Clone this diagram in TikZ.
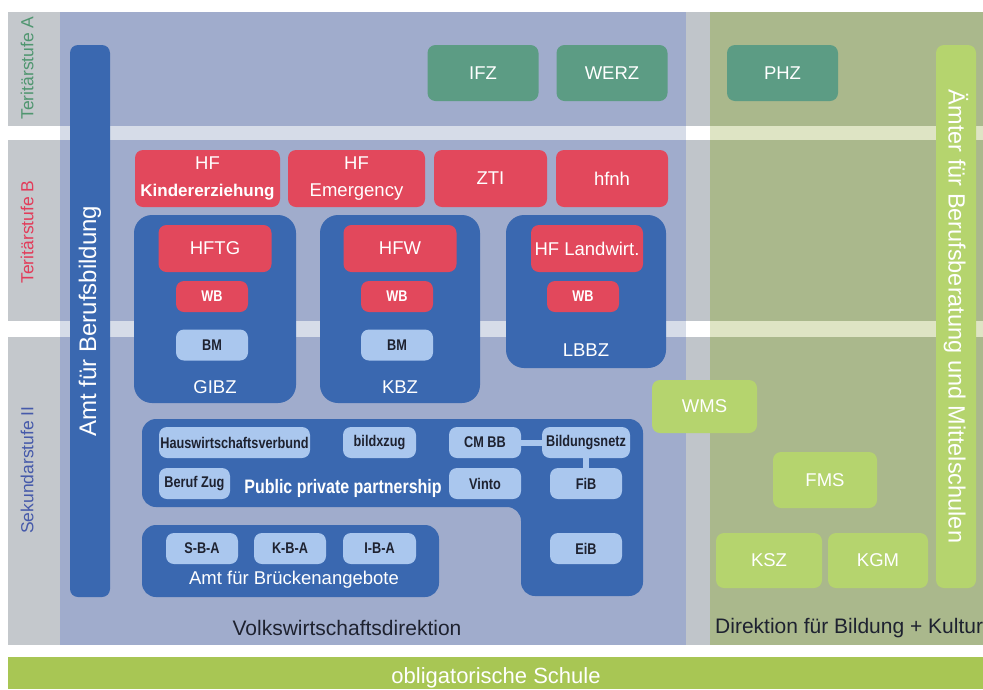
\documentclass[tikz,border=0pt]{standalone}
\usepackage{fontspec}
\setmainfont{Liberation Sans}
\newfontfamily\narrowfont[FakeStretch=0.82]{Liberation Sans}

\definecolor{stripgray}{RGB}{196,200,204}
\definecolor{vwdblue}{RGB}{160,172,204}
\definecolor{bandblue}{RGB}{214,220,232}
\definecolor{sepgray}{RGB}{192,197,202}
\definecolor{dbkgreen}{RGB}{170,184,140}
\definecolor{bandgreen}{RGB}{222,228,196}
\definecolor{boxblue}{RGB}{58,104,176}
\definecolor{boxlight}{RGB}{170,199,238}
\definecolor{boxred}{RGB}{226,72,92}
\definecolor{boxteal}{RGB}{92,156,132}
\definecolor{boxgreen}{RGB}{181,212,110}
\definecolor{barlime}{RGB}{168,198,84}
\definecolor{textdark}{RGB}{30,34,48}
\definecolor{stufeA}{RGB}{80,150,112}
\definecolor{stufeB}{RGB}{226,60,90}
\definecolor{stufeS}{RGB}{70,90,170}

\tikzset{
  box/.style={rounded corners=8pt, inner sep=0pt, align=center},
  tealbox/.style={box, fill=boxteal, text=white, font=\fontsize{18.5}{21}\selectfont,
    minimum width=111pt, minimum height=56pt},
  redbox/.style={box, fill=boxred, text=white, font=\fontsize{18.5}{27}\selectfont,
    minimum height=57pt},
  hfbox/.style={box, fill=boxred, text=white, font=\fontsize{18.5}{21}\selectfont,
    minimum width=113pt, minimum height=47pt},
  wbbox/.style={box, fill=boxred, text=white, font=\narrowfont\bfseries\fontsize{15.5}{17}\selectfont,
    minimum width=72pt, minimum height=31pt},
  lightbox/.style={box, fill=boxlight, text=textdark, font=\narrowfont\bfseries\fontsize{15.5}{17}\selectfont,
    minimum width=72pt, minimum height=31pt},
  greenbox/.style={box, fill=boxgreen, text=white, font=\fontsize{18.5}{21}\selectfont,
    minimum height=55pt},
  whitelabel/.style={text=white, inner sep=0pt, font=\fontsize{18.5}{21}\selectfont},
  stufe/.style={rotate=90, inner sep=0pt, font=\fontsize{17.5}{20}\selectfont},
  link/.style={draw=boxlight, line width=6pt},
}

\begin{document}
\begin{tikzpicture}[x=1pt, y=-1pt]
  \useasboundingbox (0,0) rectangle (983,689);
  \fill[white] (0,0) rectangle (983,689);

  % Hintergrund
  \fill[stripgray] (8,12)   rectangle (60,645);
  \fill[vwdblue]   (60,12)  rectangle (686,645);
  \fill[sepgray]   (686,12) rectangle (710,645);
  \fill[dbkgreen]  (710,12) rectangle (983,645);

  % Trennbaender
  \foreach \ya/\yb in {126/140, 321/337} {
    \fill[white]     (8,\ya)   rectangle (60,\yb);
    \fill[bandblue]  (60,\ya)  rectangle (686,\yb);
    \fill[white]     (686,\ya) rectangle (710,\yb);
    \fill[bandgreen] (710,\ya) rectangle (983,\yb);
  }
  \fill[barlime] (8,657) rectangle (983,689);

  % Stufen
  \node[stufe, text=stufeA] (stA) at (27,68)  {Teritärstufe A};
  \node[stufe, text=stufeB] (stB) at (27,232) {Teritärstufe B};
  \node[stufe, text=stufeS] (stS) at (27,470) {Sekundarstufe II};

  % Amt fuer Berufsbildung
  \node[box, fill=boxblue, text=white, rotate=90, font=\fontsize{24}{28}\selectfont,
        minimum width=552pt, minimum height=40pt] (afb) at (90,321) {Amt für Berufsbildung};

  % Tertiaerstufe A
  \node[tealbox] (ifz)  at (483,73)   {IFZ};
  \node[tealbox] (werz) at (612,73)   {WERZ};
  \node[tealbox] (phz)  at (782.5,73) {PHZ};

  % Tertiaerstufe B
  \node[redbox, minimum width=145pt] (hfk) at (207.5,178.5)
        {HF\\{\fontsize{17}{20}\selectfont\bfseries Kindererziehung}};
  \node[redbox, minimum width=137pt] (hfe) at (356.5,178.5) {HF\\Emergency};
  \node[redbox, minimum width=113pt] (zti) at (490.5,178.5) {ZTI};
  \node[redbox, minimum width=112pt] (hfnh) at (612,178.5) {hfnh};

  % Berufsbildungszentren
  \fill[boxblue, rounded corners=18pt] (134,215) rectangle (296,403);
  \fill[boxblue, rounded corners=18pt] (320,215) rectangle (480,403);
  \fill[boxblue, rounded corners=18pt] (506,215) rectangle (666,368);

  \node[hfbox] (hftg) at (215,248.5) {HFTG};
  \node[wbbox] (wb1)  at (212,296.5) {WB};
  \node[lightbox] (bm1) at (212,345) {BM};
  \node[whitelabel] (gibz) at (215,387) {GIBZ};

  \node[hfbox] (hfw) at (400,248.5) {HFW};
  \node[wbbox] (wb2) at (397,296.5) {WB};
  \node[lightbox] (bm2) at (397,345) {BM};
  \node[whitelabel] (kbz) at (400,387) {KBZ};

  \node[hfbox, minimum width=112pt] (hfl) at (587,248.5) {HF Landwirt.};
  \node[wbbox] (wb3) at (583,296.5) {WB};
  \node[whitelabel] (lbbz) at (586,350) {LBBZ};

  % Public private partnership
  \fill[boxblue, rounded corners=14pt] (142,419) -- (643,419) -- (643,596)
        -- (521,596) -- (521,507) -- (142,507) -- cycle;
  \node[lightbox, minimum width=151pt] (hwv)  at (234.5,442.5) {Hauswirtschaftsverbund};
  \node[lightbox, minimum width=73pt]  (bxz)  at (379.5,442.5) {bildxzug};
  \node[lightbox] (cmbb)  at (485,442.5) {CM BB};
  \node[lightbox, minimum width=88pt]  (bnetz) at (586,442.5) {Bildungsnetz};
  \node[lightbox, minimum width=71pt]  (bzug) at (194.5,483.5) {Beruf Zug};
  \node[lightbox] (vinto) at (485,483.5) {Vinto};
  \node[lightbox] (fib)   at (586,483.5) {FiB};
  \node[lightbox] (eib)   at (586,548.5) {EiB};
  \node[text=white, inner sep=0pt, font=\narrowfont\bfseries\fontsize{19.5}{22}\selectfont]
        (ppp) at (343,488) {Public private partnership};

  \draw[link] (cmbb) -- (bnetz);
  \draw[link] (bnetz) -- (fib);

  % Brueckenangebote
  \fill[boxblue, rounded corners=14pt] (142,525) rectangle (439,597);
  \node[lightbox] (sba) at (202,548.5) {S-B-A};
  \node[lightbox] (kba) at (290,548.5) {K-B-A};
  \node[lightbox, minimum width=73pt] (iba) at (379.5,548.5) {I-B-A};
  \node[whitelabel] (abr) at (294,580) {Amt für Brückenangebote};

  % Mittelschulen
  \node[greenbox, minimum width=105pt, minimum height=53pt] (wms) at (704.5,406.5) {WMS};
  \node[greenbox, minimum width=104pt, minimum height=56pt] (fms) at (825,480) {FMS};
  \node[greenbox, minimum width=106pt] (ksz) at (769,560.5) {KSZ};
  \node[greenbox, minimum width=100pt] (kgm) at (878,560.5) {KGM};
  \node[box, fill=boxgreen, text=white, rotate=-90, font=\fontsize{23.5}{27}\selectfont,
        minimum width=543pt, minimum height=40pt] (abm) at (956,316.5)
        {Ämter für Berufsberatung und Mittelschulen};

  % Direktionen
  \node[text=textdark, inner sep=0pt, font=\fontsize{21}{24}\selectfont]
        (vwd) at (347,628) {Volkswirtschaftsdirektion};
  \node[text=textdark, inner sep=0pt, anchor=west, font=\fontsize{21}{24}\selectfont]
        (dbk) at (715,628) {Direktion für Bildung + Kultur};
  \node[text=white, inner sep=0pt, anchor=base, font=\fontsize{22}{24}\selectfont]
        (obl) at (496,683) {obligatorische Schule};
\end{tikzpicture}
\end{document}
